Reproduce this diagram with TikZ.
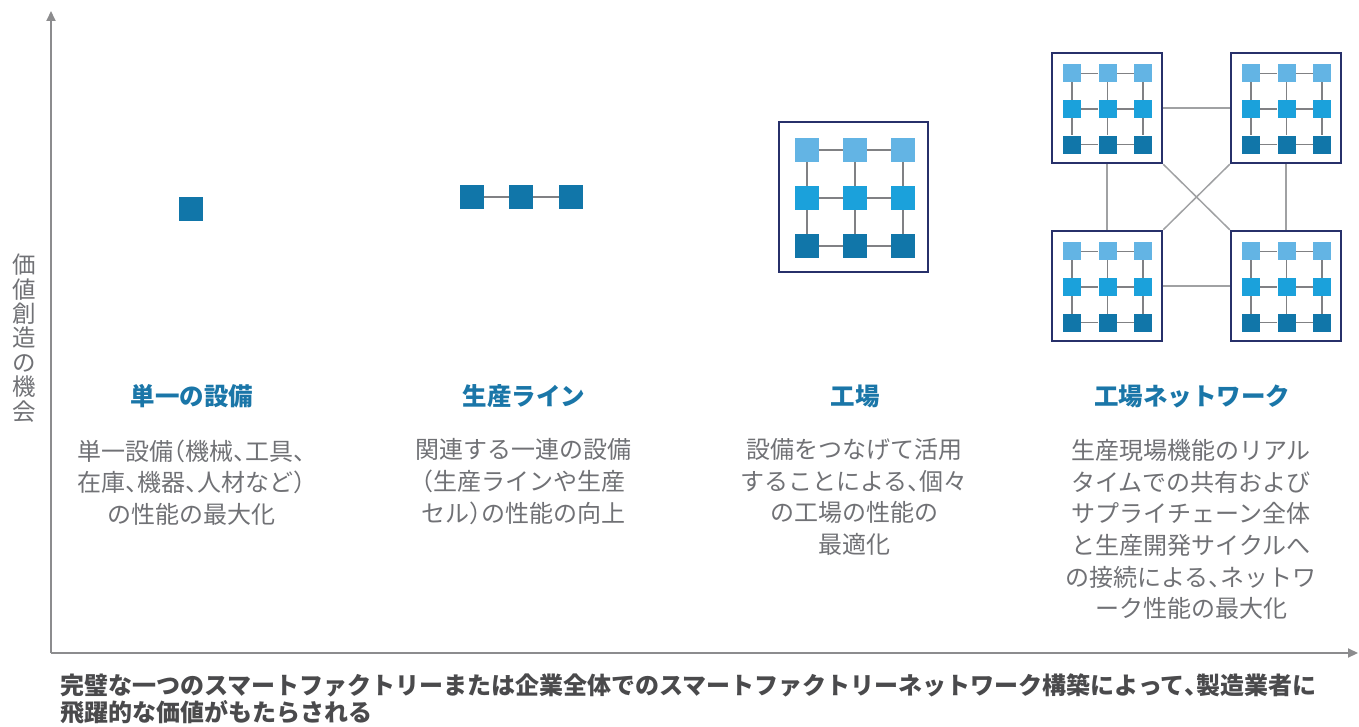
\documentclass[tikz,border=0pt]{standalone}
\usepackage{fontspec}
\setmainfont{Noto Sans CJK JP}
\usetikzlibrary{arrows.meta}
\definecolor{lightsq}{HTML}{63B4E4}
\definecolor{midsq}{HTML}{1BA1DB}
\definecolor{darksq}{HTML}{1176A9}
\definecolor{frame}{HTML}{27306A}
\definecolor{head}{HTML}{1A76A8}
\definecolor{bodytxt}{HTML}{707175}
\definecolor{captxt}{HTML}{4A4A4C}
\definecolor{axis}{HTML}{8C8C8E}
\definecolor{gridln}{HTML}{808184}
\definecolor{netln}{HTML}{A0A1A3}
\newcommand\tc{\makebox[0.5em][l]{、}}
\newcommand\lp{\makebox[0.5em][r]{（}}
\newcommand\rp{\makebox[0.5em][l]{）}}
\newcommand\mkgrid[6]{% prefix, cx, cy, spacing, size, line width
  \foreach \r/\cc in {1/lightsq,2/midsq,3/darksq}{
    \foreach \k in {1,2,3}{
      \node[sq, fill=\cc, minimum size=#5pt] (#1-\r-\k) at ({#2+(\k-2)*#4},{#3+(\r-2)*#4}) {};
    }}
  \foreach \r in {1,2,3}{\draw[gridln, line width=#6pt] (#1-\r-1) -- (#1-\r-2) -- (#1-\r-3);}
  \foreach \k in {1,2,3}{\draw[gridln, line width=#6pt] (#1-1-\k) -- (#1-2-\k) -- (#1-3-\k);}
}
\begin{document}
\begin{tikzpicture}[x=1pt,y=-1pt,
  sq/.style={rectangle, inner sep=0pt, draw=none},
  box/.style={rectangle, inner sep=0pt, draw=frame, line width=2.5pt, fill=white},
  axisln/.style={draw=axis, line width=2pt, -{Triangle[length=10pt,width=9pt]}},
  netlink/.style={draw=netln, line width=1.5pt},
  heading/.style={text=head, font=\fontsize{24.5}{28}\selectfont\bfseries},
  body/.style={text=bodytxt, align=center, font=\fontsize{24}{31.6}\selectfont},
]
\useasboundingbox (0,0) rectangle (1359,727);

% axes
\coordinate (origin) at (51,653);
\coordinate (ytip) at (51,11);
\coordinate (xtip) at (1358,653);
\draw[axisln] (origin) -- (ytip);
\draw[axisln] (origin) -- (xtip);

\node[text=bodytxt, align=center, font=\fontsize{23.5}{24.4}\selectfont] (ylab) at (24.5,338)
  {価\\値\\創\\造\\の\\機\\会};

% single equipment
\node[sq, fill=darksq, minimum size=24pt] (single) at (191,209) {};

% production line
\node[sq, fill=darksq, minimum size=24pt] (l1) at (472,197) {};
\node[sq, fill=darksq, minimum size=24pt] (l2) at (521,197) {};
\node[sq, fill=darksq, minimum size=24pt] (l3) at (571,197) {};
\draw[gridln, line width=2pt] (l1) -- (l2) -- (l3);

% factory
\node[box, minimum width=149pt, minimum height=150pt] (fac) at (853.5,197) {};
\mkgrid{f}{855}{198}{48}{24}{2}

% network
\node[box, minimum size=110pt] (tl) at (1107,108) {};
\node[box, minimum size=110pt] (tr) at (1286,108) {};
\node[box, minimum size=110pt] (bl) at (1107,286) {};
\node[box, minimum size=110pt] (br) at (1286,286) {};
\draw[netlink] (tl) -- (tr);
\draw[netlink] (bl) -- (br);
\draw[netlink] (tl) -- (bl);
\draw[netlink] (tr) -- (br);
\draw[netlink] (tl.south east) -- (br.north west);
\draw[netlink] (tr.south west) -- (bl.north east);
\mkgrid{a}{1107.5}{109}{35.7}{18}{1.5}
\mkgrid{b}{1286.5}{109}{35.7}{18}{1.5}
\mkgrid{c}{1107.5}{287}{35.7}{18}{1.5}
\mkgrid{d}{1286.5}{287}{35.7}{18}{1.5}

% headings
\node[heading] (h1) at (192,396) {単一の設備};
\node[heading] (h2) at (524,396) {生産ライン};
\node[heading] (h3) at (855,396) {工場};
\node[heading] (h4) at (1192,396) {工場ネットワーク};

% bodies
\node[body] (t1) at (191,482.5) {単一設備\lp 機械\tc 工具\tc\\在庫\tc 機器\tc 人材など\rp\\の性能の最大化};
\node[body] (t2) at (523,481.5) {関連する一連の設備\\\lp 生産ラインや生産\\セル\rp の性能の向上};
\node[body] (t3) at (854,497) {設備をつなげて活用\\することによる\tc 個々\\の工場の性能の\\最適化};
\node[body] (t4) at (1191,529.5) {生産現場機能のリアル\\タイムでの共有および\\サプライチェーン全体\\と生産開発サイクルへ\\の接続による\tc ネットワ\\ーク性能の最大化};

% caption
\node[text=captxt, align=left, anchor=north west, font=\fontsize{24}{27}\selectfont\bfseries, inner sep=0pt] (cap) at (60,674)
  {完璧な一つのスマートファクトリーまたは企業全体でのスマートファクトリーネットワーク構築によって\tc 製造業者に\\飛躍的な価値がもたらされる};
\end{tikzpicture}
\end{document}
